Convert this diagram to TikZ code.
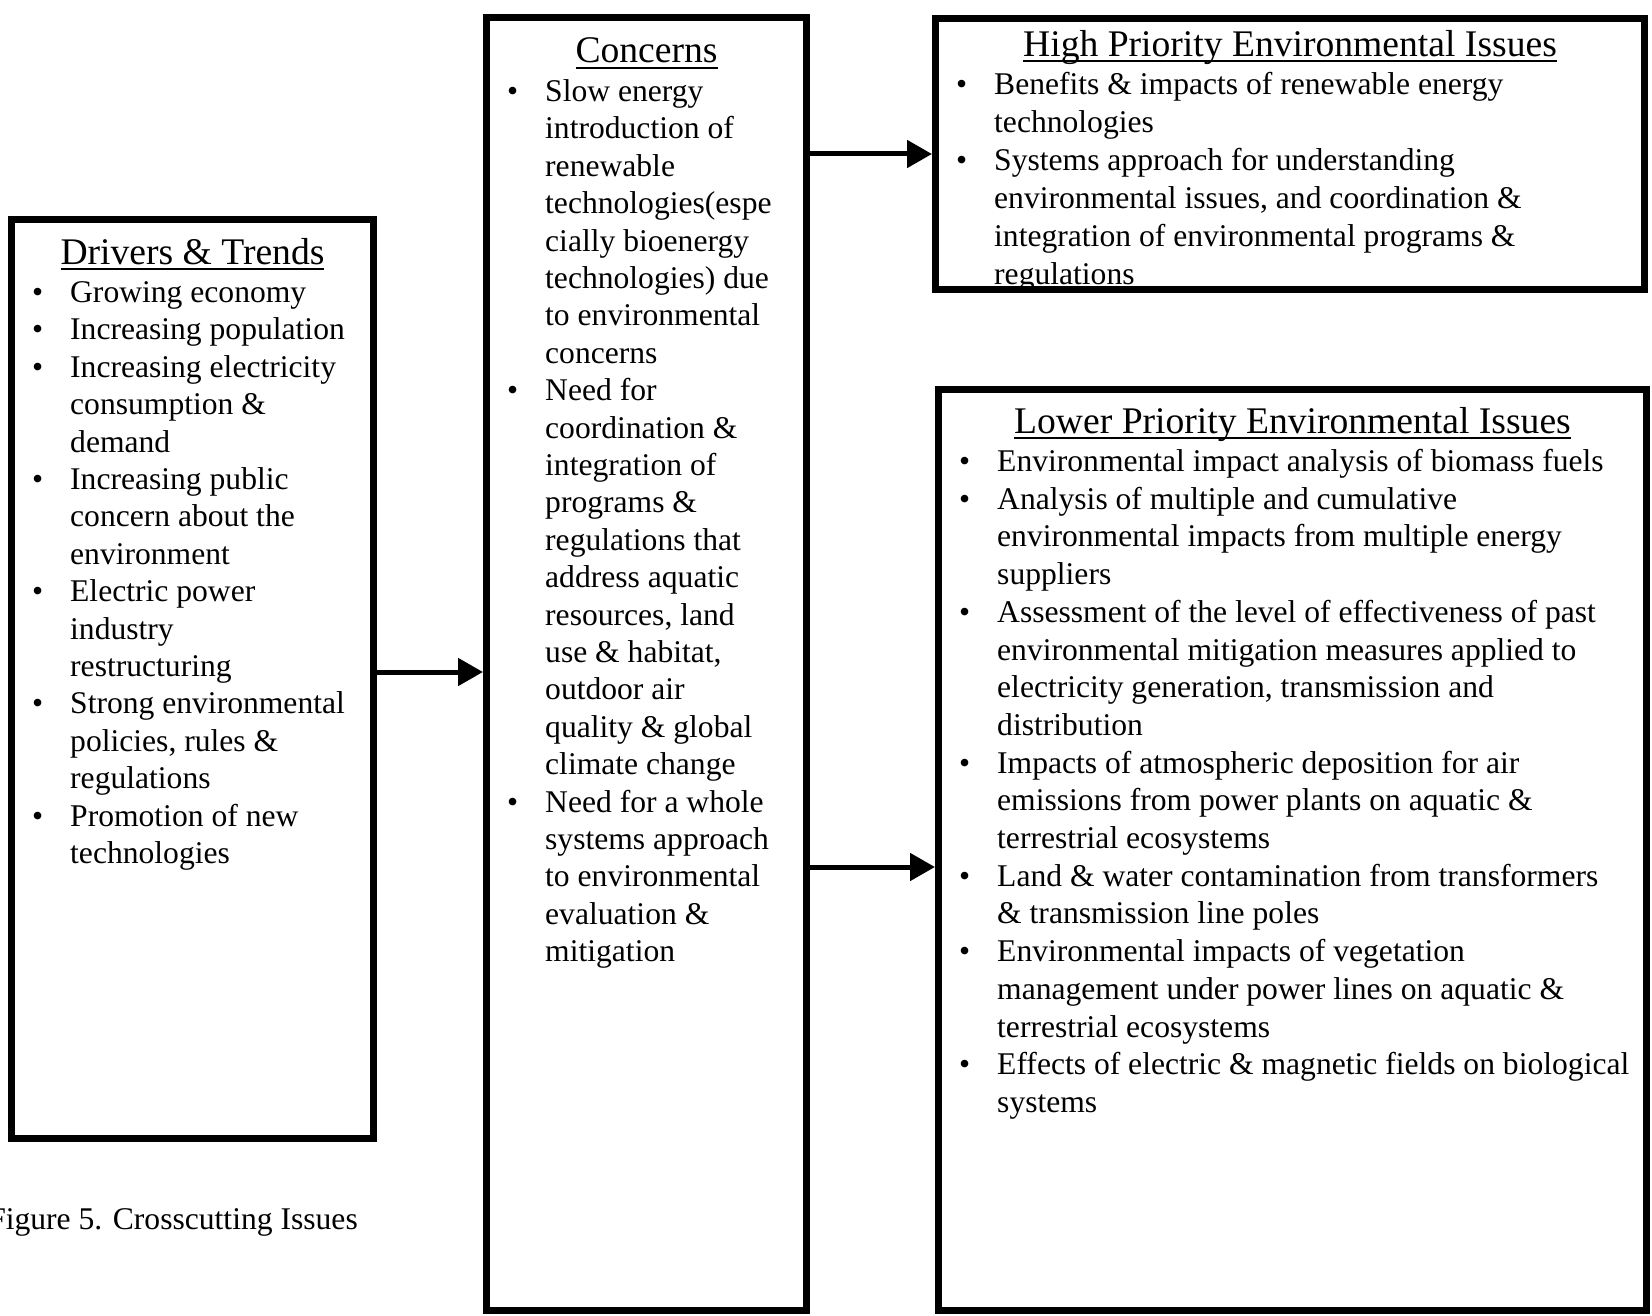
\documentclass[tikz,border=0pt]{standalone}
\usepackage{fontspec}
\setmainfont{Liberation Serif}
\usetikzlibrary{arrows.meta}
\newcommand{\ulhead}[1]{\setbox0=\hbox{#1}\rlap{\rule[-6pt]{\wd0}{2.2pt}}\box0}

\begin{document}
\begin{tikzpicture}[x=1pt,y=-1pt,
	panel/.style={draw,line width=7pt,anchor=north west,inner sep=0},
	head/.style={font=\fontsize{37.6}{42}\selectfont,anchor=base,inner sep=0},
	itemlist/.style={font=\fontsize{31.6}{#1}\selectfont,anchor=base west,inner sep=0},
	conn/.style={line width=5pt,-{Triangle[length=25pt,width=27pt]}}]
\useasboundingbox[fill=white] (0,0) rectangle (1652,1316);
\node[panel,minimum width=362pt,minimum height=919pt] (drivers) at (8,216) {};
\node[panel,minimum width=320pt,minimum height=1293pt] (concerns) at (483,14) {};
\node[panel,minimum width=709pt,minimum height=271pt] (high) at (932,15) {};
\node[panel,minimum width=708pt,minimum height=921pt] (lower) at (935,386) {};
\node[head] (drivershead) at ([yshift=-48pt]drivers.north) {\ulhead{Drivers \& Trends}};
\node[head] (concernshead) at ([yshift=-49pt]concerns.north) {\ulhead{Concerns}};
\node[head] (highhead) at ([yshift=-41.5pt]high.north) {\ulhead{High Priority Environmental Issues}};
\node[head] (lowerhead) at ([yshift=-47pt]lower.north) {\ulhead{Lower Priority Environmental Issues}};
\node[itemlist=37.4] (driverslist) at ([xshift=24pt,yshift=-38.5pt]drivers.west |- drivershead.base) {%
\begin{tabular}[t]{@{}p{38pt}@{}l@{}}
\textbullet & Growing economy\\
\textbullet & Increasing population\\
\textbullet & Increasing electricity\\
 & consumption \&\\
 & demand\\
\textbullet & Increasing public\\
 & concern about the\\
 & environment\\
\textbullet & Electric power\\
 & industry\\
 & restructuring\\
\textbullet & Strong environmental\\
 & policies, rules \&\\
 & regulations\\
\textbullet & Promotion of new\\
 & technologies
\end{tabular}};
\node[itemlist=37.4] (concernslist) at ([xshift=24pt,yshift=-38.5pt]concerns.west |- concernshead.base) {%
\begin{tabular}[t]{@{}p{38pt}@{}l@{}}
\textbullet & Slow energy\\
 & introduction of\\
 & renewable\\
 & technologies(espe\\
 & cially bioenergy\\
 & technologies) due\\
 & to environmental\\
 & concerns\\
\textbullet & Need for\\
 & coordination \&\\
 & integration of\\
 & programs \&\\
 & regulations that\\
 & address aquatic\\
 & resources, land\\
 & use \& habitat,\\
 & outdoor air\\
 & quality \& global\\
 & climate change\\
\textbullet & Need for a whole\\
 & systems approach\\
 & to environmental\\
 & evaluation \&\\
 & mitigation
\end{tabular}};
\node[itemlist=37.9] (highlist) at ([xshift=24pt,yshift=-38.5pt]high.west |- highhead.base) {%
\begin{tabular}[t]{@{}p{38pt}@{}l@{}}
\textbullet & Benefits \& impacts of renewable energy\\
 & technologies\\
\textbullet & Systems approach for understanding\\
 & environmental issues, and coordination \&\\
 & integration of environmental programs \&\\
 & regulations
\end{tabular}};
\node[itemlist=37.7] (lowerlist) at ([xshift=24pt,yshift=-38.5pt]lower.west |- lowerhead.base) {%
\begin{tabular}[t]{@{}p{38pt}@{}l@{}}
\textbullet & Environmental impact analysis of biomass fuels\\
\textbullet & Analysis of multiple and cumulative\\
 & environmental impacts from multiple energy\\
 & suppliers\\
\textbullet & Assessment of the level of effectiveness of past\\
 & environmental mitigation measures applied to\\
 & electricity generation, transmission and\\
 & distribution\\
\textbullet & Impacts of atmospheric deposition for air\\
 & emissions from power plants on aquatic \&\\
 & terrestrial ecosystems\\
\textbullet & Land \& water contamination from transformers\\
 & \& transmission line poles\\
\textbullet & Environmental impacts of vegetation\\
 & management under power lines on aquatic \&\\
 & terrestrial ecosystems\\
\textbullet & Effects of electric \& magnetic fields on biological\\
 & systems
\end{tabular}};
\node[itemlist=37.4,anchor=base east] (caption) at (358,1229) {Figure 5. Crosscutting Issues};
\draw[conn] ([yshift=7pt]drivers.east) -- ([yshift=7pt]drivers.east -| concerns.west);
\draw[conn] (high.west -| concerns.east) -- (high.west);
\draw[conn] ([yshift=-17pt]lower.west -| concerns.east) -- ([yshift=-17pt]lower.west);
\end{tikzpicture}
\end{document}
